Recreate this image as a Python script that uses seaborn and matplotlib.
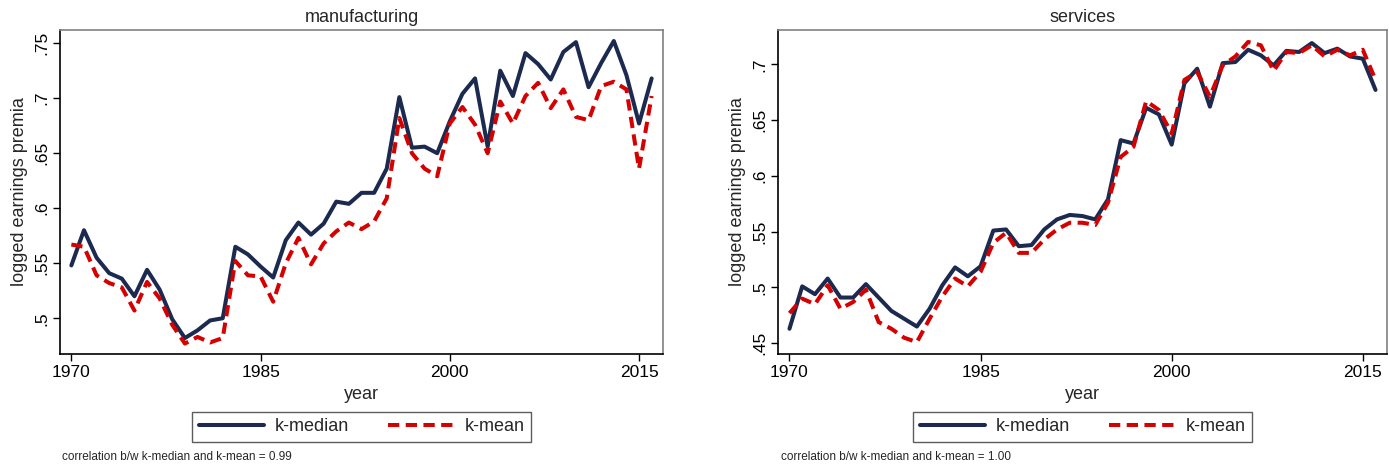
"""Earnings premia: k-median vs k-mean estimates, manufacturing and services."""

import matplotlib.pyplot as plt
import numpy as np
import pandas as pd
import seaborn as sns

years = list(range(1970, 2017))

manuf_median = [0.548, 0.580, 0.555, 0.541, 0.536, 0.520, 0.544, 0.526, 0.499, 0.482,
                0.489, 0.498, 0.500, 0.565, 0.558, 0.547, 0.537, 0.571, 0.587, 0.576,
                0.586, 0.606, 0.604, 0.614, 0.614, 0.636, 0.701, 0.655, 0.656, 0.650,
                0.679, 0.704, 0.718, 0.656, 0.725, 0.702, 0.741, 0.731, 0.717, 0.742,
                0.751, 0.710, 0.732, 0.752, 0.721, 0.677, 0.718]
manuf_mean = [0.567, 0.565, 0.539, 0.532, 0.528, 0.507, 0.533, 0.518, 0.494, 0.477,
              0.483, 0.478, 0.482, 0.552, 0.539, 0.538, 0.515, 0.550, 0.573, 0.549,
              0.568, 0.579, 0.587, 0.581, 0.588, 0.609, 0.682, 0.650, 0.636, 0.629,
              0.677, 0.692, 0.676, 0.650, 0.697, 0.677, 0.702, 0.714, 0.691, 0.708,
              0.683, 0.680, 0.711, 0.715, 0.708, 0.636, 0.702]

serv_median = [0.463, 0.501, 0.494, 0.508, 0.491, 0.491, 0.503, 0.491, 0.479, 0.472,
               0.465, 0.481, 0.502, 0.518, 0.510, 0.519, 0.551, 0.552, 0.537, 0.538,
               0.552, 0.561, 0.565, 0.564, 0.561, 0.579, 0.632, 0.629, 0.661, 0.655,
               0.628, 0.683, 0.696, 0.662, 0.701, 0.702, 0.713, 0.708, 0.699, 0.712,
               0.711, 0.719, 0.710, 0.714, 0.707, 0.705, 0.677]
serv_mean = [0.477, 0.490, 0.485, 0.502, 0.481, 0.487, 0.498, 0.469, 0.463, 0.455,
             0.451, 0.472, 0.492, 0.508, 0.501, 0.514, 0.540, 0.549, 0.531, 0.531,
             0.543, 0.552, 0.558, 0.558, 0.556, 0.576, 0.617, 0.626, 0.667, 0.659,
             0.638, 0.686, 0.693, 0.671, 0.699, 0.707, 0.720, 0.717, 0.694, 0.711,
             0.710, 0.717, 0.707, 0.713, 0.708, 0.713, 0.686]

series_names = ["k-median", "k-mean"]
manuf_yticks = [0.50, 0.55, 0.60, 0.65, 0.70, 0.75]
serv_yticks = [0.45, 0.50, 0.55, 0.60, 0.65, 0.70]
x_ticks = [1970, 1985, 2000, 2015]

panels = [
    ("manufacturing", manuf_median, manuf_mean, "0.99", manuf_yticks, (0.4675, 0.762)),
    ("services", serv_median, serv_mean, "1.00", serv_yticks, (0.4404, 0.7307)),
]

NAVY = "#1c2a50"
RED = "#d50000"


def tick_label(v):
    s = f"{v:.2f}".rstrip("0")
    return s[1:] if s.startswith("0") else s


def draw_panel(ax, title, median, mean, yticks, ylim):
    df = pd.DataFrame({
        "year": years * 2,
        "premia": median + mean,
        "series": [series_names[0]] * len(years) + [series_names[1]] * len(years),
    })
    sns.lineplot(data=df, x="year", y="premia", hue="series", style="series",
                 palette={"k-median": NAVY, "k-mean": RED},
                 dashes={"k-median": "", "k-mean": (2.8, 1.6)},
                 linewidth=2.9, ax=ax, legend=True)

    ax.set_xlim(1969.1, 2016.9)
    ax.set_ylim(*ylim)
    ax.set_xticks(x_ticks)
    ax.set_xticklabels([str(t) for t in x_ticks])
    ax.set_yticks(yticks)
    ax.set_yticklabels([tick_label(t) for t in yticks], rotation=90, va="center")
    ax.tick_params(axis="both", which="major", bottom=True, left=True, direction="out",
                   length=5, width=1, colors="black", labelsize=12.5, pad=3)
    ax.set_xlabel("year", fontsize=13)
    ax.set_ylabel("logged earnings premia", fontsize=13)
    ax.set_title(title, fontsize=13, pad=6)

    for side in ["left", "bottom"]:
        ax.spines[side].set_color("black")
        ax.spines[side].set_linewidth(1.2)
    for side in ["top", "right"]:
        ax.spines[side].set_color("#808080")
        ax.spines[side].set_linewidth(1.2)

    handles, labels = ax.get_legend_handles_labels()
    leg = ax.legend(handles, labels, loc="center", bbox_to_anchor=(0.5, -0.225), ncol=2,
                    fontsize=13, frameon=True, fancybox=False, edgecolor="#333333",
                    handlelength=3.6, columnspacing=2.2, borderpad=0.35, handletextpad=0.6)
    leg.get_frame().set_linewidth(1.0)


def main():
    sns.set_theme(style="white")
    plt.rcParams["font.family"] = ["Liberation Sans", "DejaVu Sans"]

    fig = plt.figure(figsize=(13.89, 4.67), dpi=100)
    ax_left = fig.add_axes([60 / 1389, 113 / 467, 603 / 1389, 324 / 467])
    ax_right = fig.add_axes([778 / 1389, 113 / 467, 609 / 1389, 324 / 467])

    note_x = [62 / 1389, 781 / 1389]
    for ax, (title, med, mea, corr, yticks, ylim), nx in zip([ax_left, ax_right], panels, note_x):
        draw_panel(ax, title, med, mea, yticks, ylim)
        fig.text(nx, 1 - 457 / 467, f"correlation b/w k-median and k-mean = {corr}",
                 fontsize=8.5, va="center", ha="left")

    fig.savefig("out.png", dpi=100)
    plt.close(fig)


if __name__ == "__main__":
    main()
